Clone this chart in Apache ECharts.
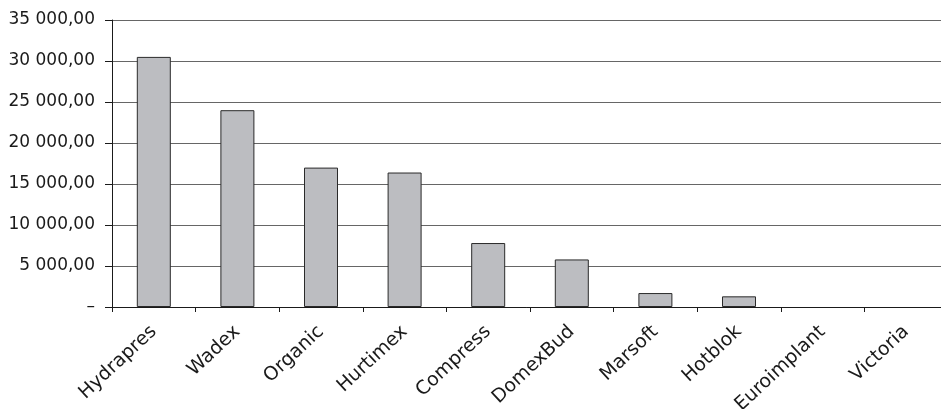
<!DOCTYPE html>
<html>
<head>
<meta charset="utf-8">
<script src="https://cdn.jsdelivr.net/npm/echarts@6/dist/echarts.min.js"></script>
<style>
  html, body { margin: 0; padding: 0; background: #fff; }
  #chart { width: 941px; height: 409px; }
</style>
</head>
<body>
<div id="chart"></div>
<script>
// Companies and their values
const companies = ['Hydrapres', 'Wadex', 'Organic', 'Hurtimex', 'Compress', 'DomexBud', 'Marsoft', 'Hotblok', 'Euroimplant', 'Victoria'];
const values = [30500, 24000, 17000, 16400, 7800, 5800, 1700, 1300, 0, 0];

// Value axis range
const yMin = 0;
const yMax = 35000;
const yStep = 5000;

const FONT = 'DejaVu Sans';

function formatValue(v) {
  if (v === 0) return '–';
  const whole = Math.round(v).toString().replace(/\B(?=(\d{3})+(?!\d))/g, ' ');
  return whole + ',00';
}

// zero-height bars get no outline
const barData = values.map(v => (v === 0 ? { value: v, itemStyle: { borderWidth: 0 } } : v));

const chart = echarts.init(document.getElementById('chart'));
chart.setOption({
  animation: false,
  backgroundColor: '#ffffff',
  textStyle: { fontFamily: FONT },
  grid: { left: 112, right: -7, top: 20, bottom: 102, containLabel: false, outerBoundsMode: 'none' },
  xAxis: {
    type: 'category',
    data: companies,
    axisLine: { lineStyle: { color: '#1a1a1a', width: 1 } },
    axisTick: { show: true, length: 5, lineStyle: { color: '#1a1a1a' } },
    axisLabel: {
      interval: 0,
      rotate: 43,
      margin: 22,
      color: '#1a1a1a',
      fontSize: 19,
      fontFamily: FONT
    }
  },
  yAxis: {
    type: 'value',
    min: yMin,
    max: yMax,
    interval: yStep,
    axisLine: { show: true, lineStyle: { color: '#1a1a1a', width: 1 } },
    axisTick: { show: true, length: 7, lineStyle: { color: '#1a1a1a' } },
    splitLine: { show: true, lineStyle: { color: '#666666', width: 1 } },
    axisLabel: {
      color: '#1a1a1a',
      fontSize: 17,
      margin: 17,
      fontFamily: FONT,
      formatter: formatValue
    }
  },
  series: [{
    type: 'bar',
    data: barData,
    barWidth: 34,
    itemStyle: { color: '#bcbdc1', borderColor: '#2a2a2a', borderWidth: 1 }
  }]
});
</script>
</body>
</html>
